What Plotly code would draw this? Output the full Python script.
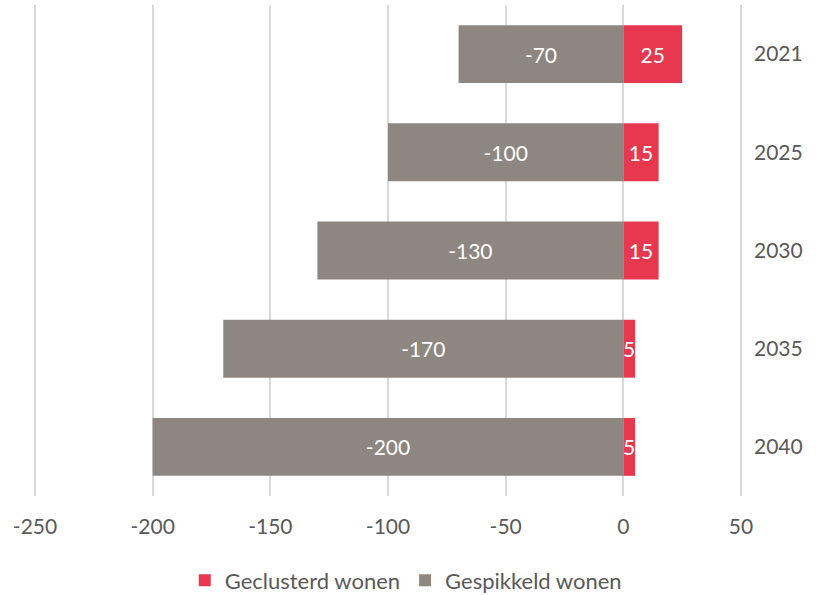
import plotly.graph_objects as go

years = ["2021", "2025", "2030", "2035", "2040"]
geclusterd = [25, 15, 15, 5, 5]
gespikkeld = [-70, -100, -130, -170, -200]
x_ticks = [-250, -200, -150, -100, -50, 0, 50]

RED = "#E8384F"
GREY = "#8E8781"
FONT = "Lato"
FS = 21

fig = go.Figure()
fig.add_trace(go.Bar(
    y=years, x=geclusterd, orientation="h", name="Geclusterd wonen",
    marker=dict(color=RED, line=dict(width=0)),
    text=[str(v) for v in geclusterd], textposition="inside",
    insidetextanchor="middle", textfont=dict(color="white", size=FS, family=FONT),
))
fig.add_trace(go.Bar(
    y=years, x=gespikkeld, orientation="h", name="Gespikkeld wonen",
    marker=dict(color=GREY, line=dict(width=0)),
    text=[str(v) for v in gespikkeld], textposition="inside",
    insidetextanchor="middle", textfont=dict(color="white", size=FS, family=FONT),
))

fig.update_layout(
    width=816, height=595,
    margin=dict(l=33, r=73, t=5, b=99, autoexpand=False),
    barmode="relative", bargap=0.41,
    plot_bgcolor="white", paper_bgcolor="white",
    font=dict(family=FONT, size=FS, color="#595959"),
    uniformtext=dict(minsize=FS, mode="show"),
    legend=dict(orientation="h", x=0.525, xanchor="center", y=-0.172, yanchor="middle",
                font=dict(size=22, color="#595959"), traceorder="normal",
                itemwidth=30),
    xaxis=dict(range=[-250.85, 50.85], tickvals=x_ticks, ticktext=[str(v) for v in x_ticks],
               showgrid=True, gridcolor="#D9D9D9", gridwidth=2, zeroline=False,
               showline=False, ticks="", ticklabelstandoff=16, automargin=False),
    yaxis=dict(side="right", autorange="reversed", categoryorder="array",
               categoryarray=years, showgrid=False, zeroline=False, showline=False,
               ticks="", ticklabelstandoff=10, automargin=False),
)

fig.write_html("out.html", config={"displayModeBar": False},
               post_script="document.body.style.margin='0';")
